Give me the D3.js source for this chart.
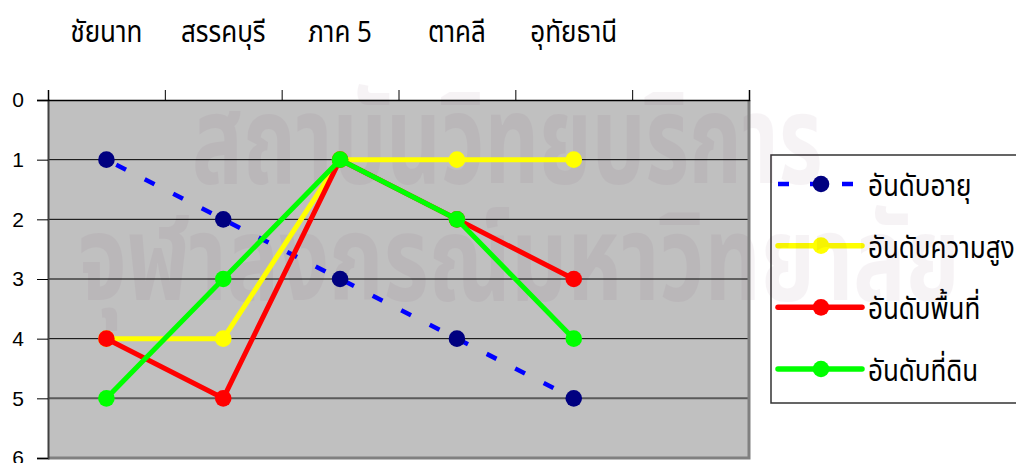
<!DOCTYPE html>
<html>
<head>
<meta charset="utf-8">
<script src="https://cdn.jsdelivr.net/npm/d3@7"></script>
<style>
  html, body { margin: 0; padding: 0; background: #fff; }
  svg { display: block; }
  .thai { font-family: "Noto Sans Thai", "Noto Sans", "DejaVu Sans", sans-serif; }
</style>
</head>
<body>
<svg id="chart" width="1016" height="463"></svg>
<script>
// Ranking of districts by each criterion (1 = best)
const categories = ["ชัยนาท", "สรรคบุรี", "ภาค 5", "ตาคลี", "อุทัยธานี"];
const seriesNames = ["อันดับอายุ", "อันดับความสูง", "อันดับพื้นที่", "อันดับที่ดิน"];
const rankAge    = [1, 2, 3, 4, 5];
const rankHeight = [4, 4, 1, 1, 1];
const rankArea   = [4, 5, 1, 2, 3];
const rankLand   = [5, 3, 1, 2, 4];
const yTicks = [0, 1, 2, 3, 4, 5, 6];
const watermarkLines = ["สถาบันวิทยบริการ", "จุฬาลงกรณ์มหาวิทยาลัย"];

const series = [
  { name: seriesNames[0], values: rankAge,    line: "#0000ff", marker: "#000080", dash: "11,21" },
  { name: seriesNames[1], values: rankHeight, line: "#ffff00", marker: "#ffff00", dash: null },
  { name: seriesNames[2], values: rankArea,   line: "#ff0000", marker: "#ff0000", dash: null },
  { name: seriesNames[3], values: rankLand,   line: "#00ff00", marker: "#00ff00", dash: null }
];

const svg = d3.select("#chart");
const plot = { left: 48, right: 749, top: 100, bottom: 458 };

// one extra empty slot on the right, as in the original layout
const x = d3.scaleBand().domain([...categories, ""]).range([plot.left, plot.right]).padding(0);
const cx = c => x(c) + x.bandwidth() / 2;
const y = d3.scaleLinear().domain([0, 6]).range([plot.top, plot.bottom]);

// plot background
svg.append("rect")
  .attr("x", plot.left).attr("y", plot.top)
  .attr("width", plot.right - plot.left).attr("height", plot.bottom - plot.top)
  .attr("fill", "#c0c0c0");

// legend box (entries are drawn later, above the watermark)
const legend = svg.append("g");
legend.append("rect")
  .attr("x", 771).attr("y", 155).attr("width", 270).attr("height", 248)
  .attr("fill", "#fff").attr("stroke", "#333").attr("stroke-width", 1.5);

// faint library watermark across the page
const wm = svg.append("g").attr("class", "thai")
  .attr("fill", "#50003c").attr("opacity", 0.045)
  .attr("font-size", 92).attr("font-weight", 700);
wm.selectAll("text")
  .data(watermarkLines)
  .join("text")
  .attr("transform", (d, i) => i === 0 ? "translate(192,183) scale(0.92,1.35)" : "translate(78,300) scale(0.95,1.3)")
  .text(d => d);

// horizontal gridlines
svg.append("g").selectAll("line")
  .data(yTicks.filter(t => t > 0 && t < 6))
  .join("line")
  .attr("x1", plot.left).attr("x2", plot.right)
  .attr("y1", d => y(d)).attr("y2", d => y(d))
  .attr("stroke", d => d === 5 ? "#5a5a5a" : "#000")
  .attr("stroke-width", d => d === 5 ? 2 : 1);

// plot frame (right / bottom)
svg.append("path")
  .attr("d", `M${plot.right},${plot.top}V${plot.bottom}H${plot.left}`)
  .attr("fill", "none").attr("stroke", "#808080").attr("stroke-width", 3);

// left value axis
const yAxis = svg.append("g")
  .attr("transform", `translate(${plot.left},0)`)
  .call(d3.axisLeft(y).tickValues(yTicks).tickSize(11).tickPadding(13).tickFormat(d3.format("d")));
yAxis.select(".domain").attr("stroke", "#404040").attr("stroke-width", 2);
yAxis.selectAll(".tick line").attr("stroke", "#000");
yAxis.selectAll("text")
  .attr("font-family", "Liberation Sans, Arial, sans-serif")
  .attr("font-size", 21).attr("fill", "#000");

// top category axis (tick marks at slot boundaries)
const edges = d3.scaleLinear().domain([0, x.domain().length]).range([plot.left, plot.right]);
const xAxis = svg.append("g")
  .attr("transform", `translate(0,${plot.top})`)
  .call(d3.axisTop(edges).tickValues(d3.range(x.domain().length + 1)).tickSize(10).tickFormat(""));
xAxis.select(".domain").attr("stroke", "#000").attr("stroke-width", 1.5);
xAxis.selectAll(".tick line").attr("stroke", "#000");

svg.append("g").attr("class", "thai")
  .selectAll("text")
  .data(categories)
  .join("text")
  .attr("transform", d => `translate(${cx(d)},42) scale(1,1.15)`)
  .attr("text-anchor", "middle")
  .attr("font-size", 26)
  .attr("fill", "#000")
  .text(d => d);

// series lines and markers
const line = d3.line().x((d, i) => cx(categories[i])).y(d => y(d));
series.forEach(s => {
  svg.append("path")
    .datum(s.values)
    .attr("d", line)
    .attr("fill", "none")
    .attr("stroke", s.line)
    .attr("stroke-width", s.dash ? 4.5 : 5)
    .attr("stroke-dasharray", s.dash)
    .attr("stroke-dashoffset", s.dash ? -11 : null)
    .attr("stroke-linejoin", "round");
  svg.append("g").selectAll("circle")
    .data(s.values)
    .join("circle")
    .attr("cx", (d, i) => cx(categories[i]))
    .attr("cy", d => y(d))
    .attr("r", 8.3)
    .attr("fill", s.marker);
});

// legend entries
const ly = d3.scalePoint().domain(seriesNames).range([184, 369]);
series.forEach(s => {
  const g = legend.append("g").attr("transform", `translate(0,${ly(s.name)})`);
  g.append("line")
    .attr("x1", 778).attr("x2", 862)
    .attr("stroke", s.line).attr("stroke-width", s.dash ? 4.5 : 5.5)
    .attr("stroke-dasharray", s.dash)
    .attr("stroke-linecap", s.dash ? "butt" : "round");
  g.append("circle").attr("cx", 821).attr("r", 8.3).attr("fill", s.marker);
  g.append("text").attr("class", "thai")
    .attr("transform", "translate(868,12) scale(1,1.15)")
    .attr("font-size", 26).attr("fill", "#000")
    .text(s.name);
});
</script>
</body>
</html>
